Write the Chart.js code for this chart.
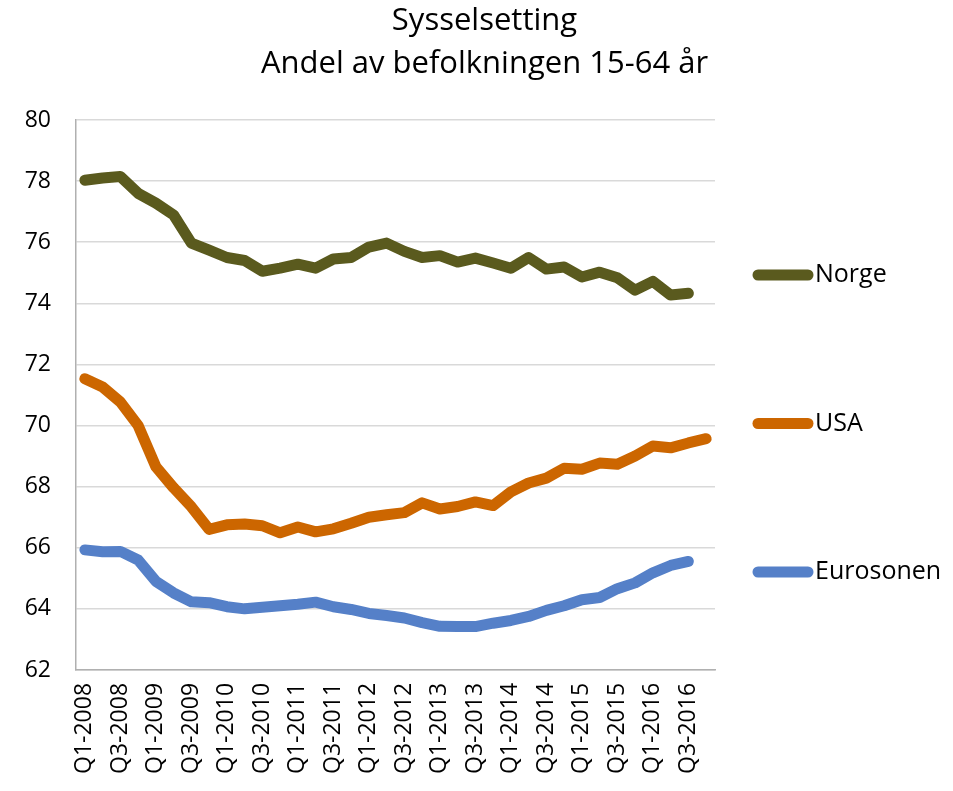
<!DOCTYPE html>
<html>
<head>
<meta charset="utf-8">
<script src="https://cdn.jsdelivr.net/npm/chart.js@4"></script>
<style>
  html, body { margin: 0; padding: 0; background: #fff; }
  #wrap { width: 953px; height: 791px; }
</style>
</head>
<body>
<div id="wrap"><canvas id="c" width="953" height="791"></canvas></div>
<script>
const titleLines = ["Sysselsetting", "Andel av befolkningen 15-64 år"];

const categories = [
  "Q1-2008","Q2-2008","Q3-2008","Q4-2008",
  "Q1-2009","Q2-2009","Q3-2009","Q4-2009",
  "Q1-2010","Q2-2010","Q3-2010","Q4-2010",
  "Q1-2011","Q2-2011","Q3-2011","Q4-2011",
  "Q1-2012","Q2-2012","Q3-2012","Q4-2012",
  "Q1-2013","Q2-2013","Q3-2013","Q4-2013",
  "Q1-2014","Q2-2014","Q3-2014","Q4-2014",
  "Q1-2015","Q2-2015","Q3-2015","Q4-2015",
  "Q1-2016","Q2-2016","Q3-2016","Q4-2016"
];

const seriesNames = ["Norge", "USA", "Eurosonen"];

const norge = [
  78.03, 78.1, 78.15, 77.6, 77.28, 76.89, 75.97, 75.74, 75.5, 75.4,
  75.05, 75.15, 75.28, 75.15, 75.45, 75.5, 75.84, 75.97, 75.7, 75.5,
  75.56, 75.35, 75.48, 75.32, 75.15, 75.5, 75.12, 75.19, 74.86, 75.02,
  74.84, 74.43, 74.72, 74.27, 74.33, null
];

const usa = [
  71.53, 71.26, 70.77, 70.0, 68.65, 67.96, 67.34, 66.6, 66.75, 66.78,
  66.72, 66.49, 66.68, 66.52, 66.62, 66.8, 67.0, 67.08, 67.15, 67.47,
  67.27, 67.35, 67.5, 67.38, 67.83, 68.12, 68.28, 68.6, 68.57, 68.77,
  68.73, 69.0, 69.33, 69.27, 69.43, 69.57
];

const eurosonen = [
  65.93, 65.87, 65.88, 65.6, 64.9, 64.52, 64.23, 64.2, 64.07, 64.0,
  64.05, 64.1, 64.15, 64.22, 64.07, 63.98, 63.85, 63.78, 63.7, 63.55,
  63.43, 63.42, 63.42, 63.53, 63.62, 63.75, 63.95, 64.1, 64.3, 64.37,
  64.66, 64.85, 65.18, 65.42, 65.55, null
];

const yTicks = [62, 64, 66, 68, 70, 72, 74, 76, 78, 80];

const colors = ["#5A5A1E", "#CC6600", "#5580C8"];
const FONT = "'Open Sans', 'Liberation Sans', sans-serif";

const seriesData = [norge, usa, eurosonen];

const sideLegend = {
  id: 'sideLegend',
  afterDraw(chart) {
    const ctx = chart.ctx;
    ctx.save();
    chart.data.datasets.forEach((ds, i) => {
      const y = 275 + i * 148.5;
      ctx.strokeStyle = ds.borderColor;
      ctx.lineWidth = 11;
      ctx.lineCap = 'round';
      ctx.beginPath();
      ctx.moveTo(758, y);
      ctx.lineTo(808, y);
      ctx.stroke();
      ctx.fillStyle = '#000';
      ctx.font = "25px " + FONT;
      ctx.textBaseline = 'middle';
      ctx.textAlign = 'left';
      ctx.fillText(ds.label, 815, y);
    });
    ctx.restore();
  }
};

new Chart(document.getElementById('c'), {
  type: 'line',
  data: {
    labels: categories,
    datasets: seriesNames.map((name, i) => ({
      label: name,
      data: seriesData[i],
      borderColor: colors[i],
      backgroundColor: colors[i],
      borderWidth: 11,
      pointRadius: 0,
      pointHoverRadius: 0,
      tension: 0,
      fill: false,
      borderCapStyle: 'round',
      borderJoinStyle: 'round',
      spanGaps: false
    }))
  },
  options: {
    responsive: false,
    animation: false,
    layout: { padding: { left: 16, right: 0, top: 0, bottom: 4 } },
    plugins: {
      legend: { display: false },
      tooltip: { enabled: false },
      title: {
        display: true,
        text: titleLines,
        color: '#000',
        font: { family: FONT, size: 31, weight: 'normal', lineHeight: 1.387 },
        padding: { top: 0, bottom: 34 }
      }
    },
    scales: {
      x: {
        offset: true,
        grid: { display: false, drawTicks: false, offset: true },
        border: { display: true, color: '#b0b0b0', width: 1.5 },
        ticks: {
          autoSkip: false,
          minRotation: 90,
          maxRotation: 90,
          padding: 13,
          color: '#000',
          font: { family: FONT, size: 23 },
          callback: function(v, idx) { return idx % 2 === 0 ? categories[idx] : ''; }
        }
      },
      y: {
        min: 62,
        max: 80,
        afterBuildTicks: (s) => { s.ticks = yTicks.map(v => ({ value: v })); },
        afterFit: (s) => { s.width = 60; },
        grid: { color: '#d9d9d9', lineWidth: 1.5, drawTicks: false },
        border: { display: true, color: '#b0b0b0', width: 1.5 },
        ticks: {
          padding: 25,
          color: '#000',
          font: { family: FONT, size: 23 }
        }
      },
      yR: {
        position: 'right',
        display: true,
        grid: { display: false, drawTicks: false },
        border: { display: false },
        ticks: { display: false },
        afterFit: (s) => { s.width = 238; }
      }
    }
  },
  plugins: [sideLegend]
});
</script>
</body>
</html>
